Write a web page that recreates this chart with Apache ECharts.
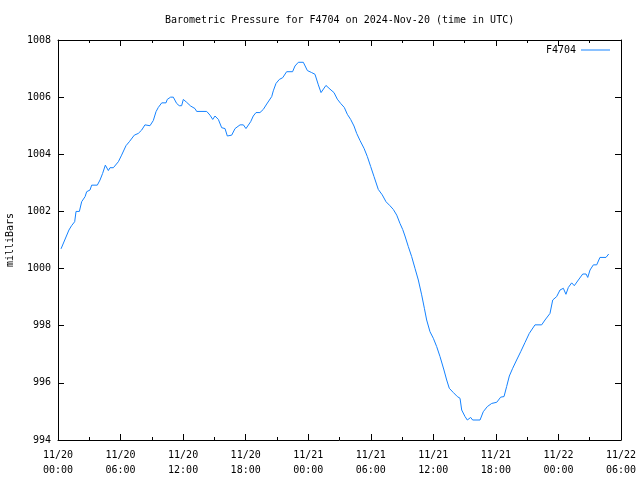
<!DOCTYPE html>
<html><head><meta charset="utf-8">
<script src="https://cdn.jsdelivr.net/npm/echarts@6/dist/echarts.min.js"></script>
<style>html,body{margin:0;padding:0;background:#fff}#c{width:640px;height:480px}</style>
</head><body><div id="c"></div>
<script>
const title = 'Barometric Pressure for F4704 on 2024-Nov-20 (time in UTC)';
const seriesName = 'F4704';
const yName = 'milliBars';
const xTickLabels = ['11/20\n00:00','11/20\n06:00','11/20\n12:00','11/20\n18:00','11/21\n00:00','11/21\n06:00','11/21\n12:00','11/21\n18:00','11/22\n00:00','11/22\n06:00'];
// hours since 2024-11-20 00:00 UTC
const hours = [0.29,1.05,1.3,1.6,1.73,2.05,2.27,2.6,2.75,3.07,3.23,3.77,4.03,4.28,4.54,4.83,4.99,5.31,5.79,6.1,6.27,6.52,6.84,7.32,7.7,8.03,8.34,8.82,9.14,9.4,9.62,9.95,10.36,10.48,10.8,11.06,11.38,11.63,11.86,12.02,12.34,12.72,13.14,13.3,14.26,14.58,14.84,15.06,15.38,15.7,16.02,16.24,16.66,16.98,17.46,17.78,18.03,18.48,18.73,18.99,19.37,19.69,20.02,20.5,20.65,20.91,21.23,21.55,21.93,22.5,22.73,23.05,23.53,23.92,24.33,24.65,24.97,25.23,25.7,26.09,26.47,26.79,27.11,27.46,27.75,28.07,28.39,28.65,28.97,29.35,29.67,29.99,30.31,30.72,31.1,31.46,31.84,32.16,32.49,32.8,33.06,33.28,33.6,33.92,34.24,34.56,34.88,35.14,35.36,35.68,36.0,36.32,36.64,37.02,37.28,37.53,37.92,38.3,38.56,38.72,39.04,39.26,39.58,39.77,40.48,40.79,41.18,41.6,42.08,42.46,42.78,43.03,43.29,43.61,43.99,44.38,44.79,45.2,45.75,46.39,46.71,47.19,47.45,47.83,48.15,48.47,48.72,48.95,49.27,49.52,49.91,50.33,50.65,50.81,51.03,51.35,51.67,51.98,52.56,52.82];
const pressure = [1000.69,1001.35,1001.5,1001.64,1002.0,1002.0,1002.34,1002.52,1002.69,1002.75,1002.92,1002.92,1003.1,1003.33,1003.62,1003.43,1003.53,1003.53,1003.74,1003.97,1004.0,1004.3,1004.44,1004.67,1004.73,1004.85,1005.03,1005.0,1005.18,1005.49,1005.64,1005.8,1005.8,1005.92,1006.0,1006.0,1005.78,1005.7,1005.7,1005.92,1005.82,1005.69,1005.6,1005.5,1005.5,1005.37,1005.22,1005.34,1005.22,1004.93,1004.9,1004.64,1004.67,1004.9,1005.03,1005.03,1004.9,1005.14,1005.34,1005.46,1005.46,1005.57,1005.76,1006.02,1006.22,1006.48,1006.62,1006.68,1006.89,1006.89,1007.09,1007.22,1007.22,1006.93,1006.86,1006.8,1006.43,1006.16,1006.41,1006.28,1006.16,1005.93,1005.78,1005.64,1005.4,1005.22,1004.99,1004.73,1004.48,1004.21,1003.92,1003.57,1003.22,1002.77,1002.58,1002.34,1002.2,1002.07,1001.87,1001.58,1001.37,1001.14,1000.77,1000.42,1000.01,999.6,999.08,998.61,998.2,997.79,997.56,997.27,996.92,996.45,996.1,995.81,995.66,995.52,995.46,995.05,994.82,994.7,994.79,994.7,994.7,994.99,995.17,995.28,995.32,995.5,995.52,995.87,996.24,996.51,996.8,997.09,997.41,997.73,998.03,998.03,998.2,998.43,998.9,999.02,999.25,999.31,999.1,999.34,999.5,999.4,999.6,999.81,999.81,999.69,999.95,1000.13,1000.13,1000.39,1000.39,1000.51];

const FONT = '"DejaVu Sans Mono", "Liberation Mono", monospace';
const data = hours.map((h, i) => [h, pressure[i]]);
const chart = echarts.init(document.getElementById('c'), null, {renderer: 'canvas'});
const axisLineStyle = {color: '#000', width: 1};
chart.setOption({
  animation: false,
  title: {text: title, left: 165, top: 15, padding: 0, textStyle: {fontFamily: FONT, fontSize: 10, fontWeight: 'normal', color: '#000'}},
  legend: {
    data: [{name: seriesName, icon: 'rect'}],
    right: 25, top: 40, align: 'right', itemWidth: 29, itemHeight: 1, itemGap: 0,
    textStyle: {fontFamily: FONT, fontSize: 10, color: '#000'}
  },
  grid: {left: 58, right: 19, top: 40, bottom: 40, containLabel: false, outerBoundsMode: 'none'},
  xAxis: [
    {type: 'value', min: 0, max: 54, interval: 6, position: 'bottom',
     axisLine: {show: true, onZero: false, lineStyle: axisLineStyle},
     axisTick: {show: true, inside: true, length: 6, lineStyle: axisLineStyle},
     minorTick: {show: true, splitNumber: 2, length: 3, lineStyle: axisLineStyle},
     splitLine: {show: false},
     axisLabel: {fontFamily: FONT, fontSize: 10, color: '#000', margin: 8, lineHeight: 15,
       hideOverlap: false, showMinLabel: true, showMaxLabel: true,
       formatter: v => xTickLabels[Math.round(v / 6)] || ''}},
    {type: 'value', min: 0, max: 54, interval: 6, position: 'top',
     axisLine: {show: true, onZero: false, lineStyle: axisLineStyle},
     axisTick: {show: true, inside: true, length: 6, lineStyle: axisLineStyle},
     minorTick: {show: true, splitNumber: 2, length: 3, lineStyle: axisLineStyle},
     splitLine: {show: false}, axisLabel: {show: false}}
  ],
  yAxis: [
    {type: 'value', min: 994, max: 1008, interval: 2, position: 'left',
     name: yName, nameLocation: 'middle', nameGap: 43, nameRotate: 90,
     nameTextStyle: {fontFamily: FONT, fontSize: 10, color: '#000'},
     axisLine: {show: true, onZero: false, lineStyle: axisLineStyle},
     axisTick: {show: true, inside: true, length: 6, lineStyle: axisLineStyle},
     splitLine: {show: false},
     axisLabel: {fontFamily: FONT, fontSize: 10, color: '#000', margin: 7, formatter: v => String(v)}},
    {type: 'value', min: 994, max: 1008, interval: 2, position: 'right',
     axisLine: {show: true, onZero: false, lineStyle: axisLineStyle},
     axisTick: {show: true, inside: true, length: 6, lineStyle: axisLineStyle},
     splitLine: {show: false}, axisLabel: {show: false}}
  ],
  series: [{
    name: seriesName, type: 'line', data: data, showSymbol: false, symbol: 'none',
    xAxisIndex: 0, yAxisIndex: 0,
    lineStyle: {color: '#1482ff', width: 1}, itemStyle: {color: '#1482ff'}
  }]
});
</script></body></html>
